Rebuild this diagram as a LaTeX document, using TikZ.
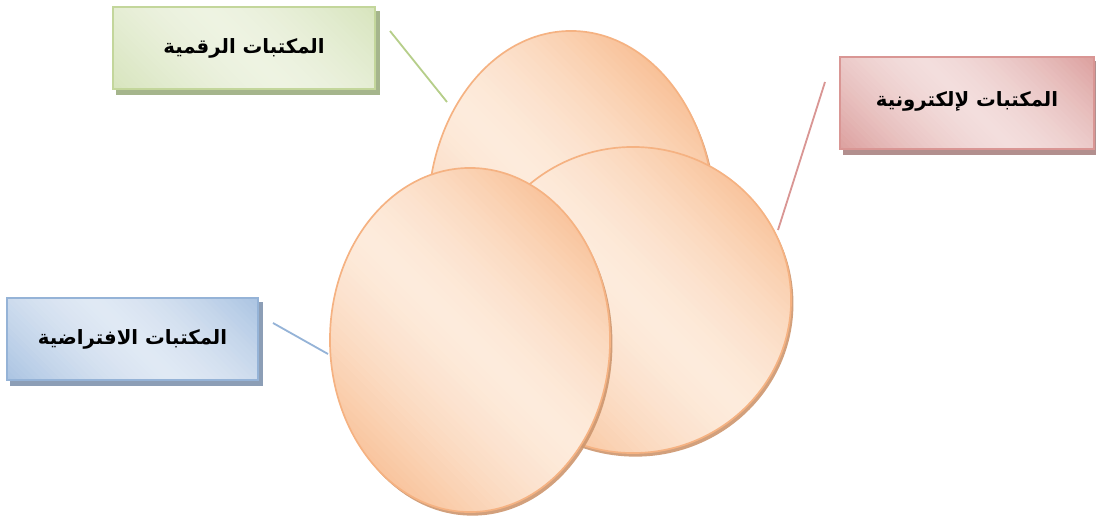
\documentclass[tikz,border=0pt]{standalone}
\usepackage{fontspec}
\newfontfamily\arabicfont[Script=Arabic]{DejaVu Sans}
\TeXXeTstate=1
\usetikzlibrary{shapes.geometric,shadows,backgrounds}
\definecolor{eggedge}{RGB}{245,178,130}
\definecolor{eggdark}{RGB}{248,192,150}
\definecolor{egglight}{RGB}{253,235,220}
\definecolor{eggshade}{RGB}{205,150,110}
\definecolor{grnedge}{RGB}{195,214,155}
\definecolor{grnline}{RGB}{182,206,138}
\definecolor{grndark}{RGB}{212,226,184}
\definecolor{grnlight}{RGB}{238,243,226}
\definecolor{grnshade}{RGB}{165,181,140}
\definecolor{rededge}{RGB}{217,150,148}
\definecolor{reddark}{RGB}{217,152,150}
\definecolor{redlight}{RGB}{243,222,221}
\definecolor{redshade}{RGB}{178,143,142}
\definecolor{bluedge}{RGB}{149,179,215}
\definecolor{bludark}{RGB}{160,188,222}
\definecolor{blulight}{RGB}{224,233,244}
\definecolor{blushade}{RGB}{140,158,182}
% diagonal light band, dark towards upper right and lower left
\newcommand\diagshade[3]{%
  \begin{scope}[rotate=45]
    \foreach \k in {-30,...,29}{
      \pgfmathsetmacro\p{min(100,100*(abs(\k+0.5)/30)^1.5)}
      \fill[#2!\p!#1] (\k*#3/30,-8) rectangle ({(\k+1)*#3/30+0.05},8);
    }
  \end{scope}}
\newcommand\eggpaint[3]{%
  \begin{scope}[shift={(#1.center)}, x=1cm, y=1cm]
    \clip (0,0) ellipse [x radius=#2, y radius=#3];
    \diagshade{egglight}{eggdark}{4.2}
  \end{scope}
  \draw[eggedge, line width=1.2pt] (#1.center) ellipse [x radius=#2cm, y radius=#3cm];}
\newcommand\boxpaint[4]{%
  \begin{scope}[on background layer]
    \fill[#4] ([xshift=0.1cm,yshift=-0.13cm]#1.south west) rectangle ([xshift=0.1cm,yshift=-0.13cm]#1.north east);
    \fill[#3] (#1.south west) rectangle (#1.north east);
    \begin{scope}
      \clip (#1.south west) rectangle (#1.north east);
      \begin{scope}[shift={(#1.center)}, x=1cm, y=1cm]
        \diagshade{#2}{#3}{3.3}
      \end{scope}
    \end{scope}
  \end{scope}}

\begin{document}
\begin{tikzpicture}[
  x=0.025cm, y=-0.025cm,
  egg/.style={ellipse, fill=eggdark, inner sep=0pt,
    drop shadow={shadow xshift=0.06cm, shadow yshift=-0.09cm, fill=eggshade, opacity=0.9}},
  tag/.style={rectangle, line width=1.2pt, inner sep=0pt, minimum height=2.05cm,
    font=\fontsize{14}{16}\selectfont\arabicfont\bfseries},
  link/.style={line width=1.3pt}
]
\useasboundingbox (0,0) rectangle (1096,518);
\node[egg, minimum width=7.15cm, minimum height=9.25cm] (top) at (571,216) {};
\eggpaint{top}{3.575}{4.625}
\node[egg, minimum width=7.9cm, minimum height=7.65cm] (rgt) at (633,300) {};
\eggpaint{rgt}{3.95}{3.825}
\node[egg, minimum width=7cm, minimum height=8.6cm] (lft) at (470,340) {};
\eggpaint{lft}{3.5}{4.3}

\node[tag, minimum width=6.55cm, draw=grnedge] (dig) at (244,48) {\beginR المكتبات الرقمية\endR};
\boxpaint{dig}{grnlight}{grndark}{grnshade}
\node[tag, minimum width=6.35cm, minimum height=2.3cm, draw=rededge]
  (ele) at (967,103) {\raisebox{0.2cm}{\beginR المكتبات لإلكترونية\endR}};
\boxpaint{ele}{redlight}{reddark}{redshade}
\node[tag, minimum width=6.275cm, draw=bluedge] (vir) at (132.5,339) {\beginR المكتبات الافتراضية\endR};
\boxpaint{vir}{blulight}{bludark}{blushade}

\coordinate (g1) at (390,31);
\coordinate (g2) at (447,102);
\coordinate (r1) at (825,82);
\coordinate (r2) at (778,230);
\coordinate (b1) at (273,323);
\coordinate (b2) at (328,354);
\draw[link, grnline] (g1) -- (g2);
\draw[link, rededge] (r1) -- (r2);
\draw[link, bluedge] (b1) -- (b2);
\end{tikzpicture}
\end{document}
